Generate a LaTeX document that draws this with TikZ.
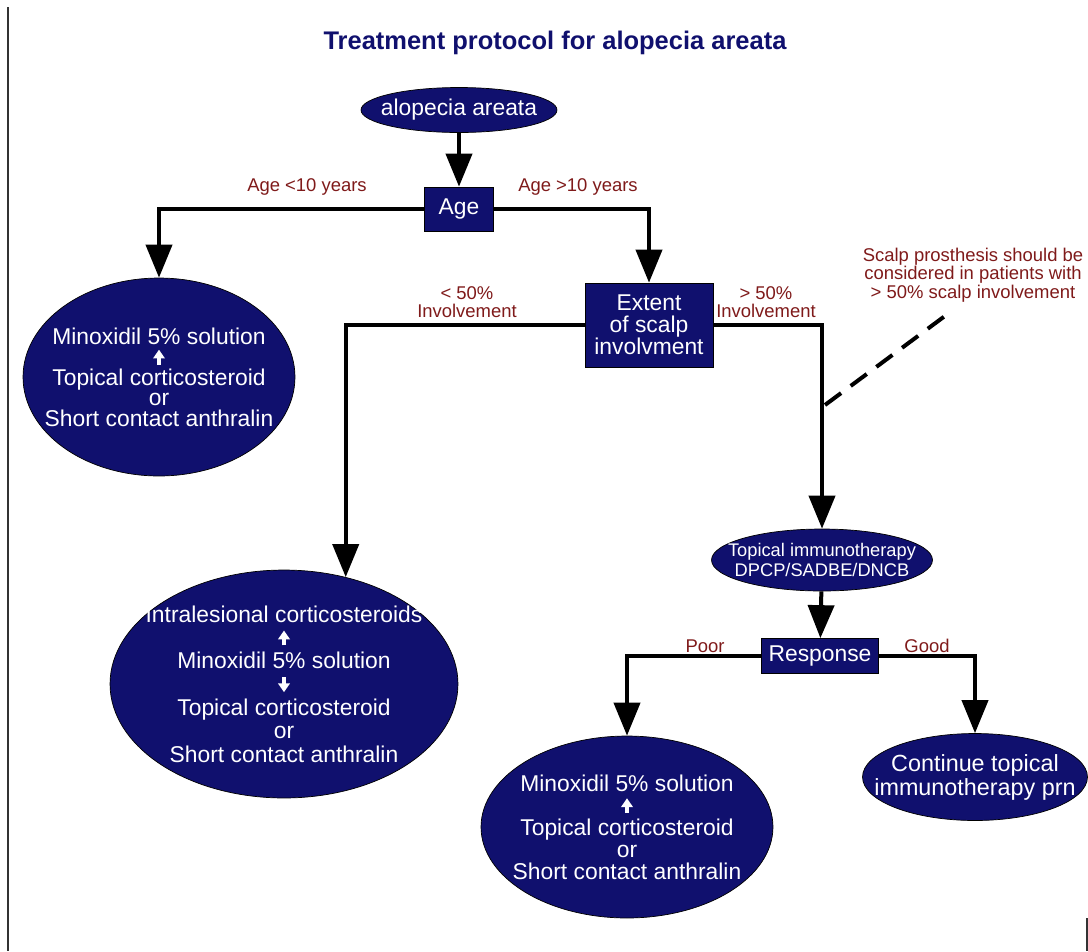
\documentclass[tikz,border=0pt]{standalone}
\usepackage{fontspec}
\setmainfont{Liberation Sans}
\usepackage{tikz}
\usetikzlibrary{positioning,shapes.geometric,arrows.meta,calc}
\definecolor{navy}{HTML}{10106E}
\definecolor{rust}{HTML}{7F1A1A}
\tikzset{
    oval/.style={ellipse, draw=black, fill=navy, text=white, align=center,
        inner xsep=-3cm, inner ysep=-2cm, font=\fontsize{13}{12.5}\selectfont},
    block/.style={rectangle, draw=black, fill=navy, text=white, align=center,
        inner sep=0pt, font=\fontsize{13}{12.5}\selectfont},
    line/.style={-{Triangle[width=0.52cm,length=0.66cm]}, line width=0.08cm},
    lbl/.style={text=rust, align=center, font=\fontsize{10.5}{10.6}\selectfont},
    dashline/.style={dash pattern=on 0.4cm off 0.24cm, line width=0.08cm},
}
% small white arrows between the lines of text
\newcommand{\uparr}{\tikz[baseline=0pt]\draw[white,line width=2pt,-{Triangle[width=6.5pt,length=5pt]}](0,0)--(0,8.5pt);}
\newcommand{\dnarr}{\tikz[baseline=0pt]\draw[white,line width=2pt,-{Triangle[width=6.5pt,length=5pt]}](0,8.5pt)--(0,0);}

\begin{document}
\begin{tikzpicture}[x=0.02cm, y=-0.02cm]
    \useasboundingbox (0,0) rectangle (1088,951);
    \draw[line width=0.04cm, black!80] (8,7) -- (8,951);
    \draw[line width=0.04cm, black!80] (1087,918) -- (1087,951);

    \node[text=navy, font=\fontsize{14.5}{16}\selectfont\bfseries] (title) at (555,43)
        {Treatment protocol for alopecia areata};

    \node[oval, minimum width=3.92cm, minimum height=0.9cm] (disease) at (459,110) {alopecia areata};
    \node[block, minimum width=1.38cm, minimum height=0.88cm] (age) at (459,209) {Age};
    \node[oval, minimum width=5.44cm, minimum height=3.96cm,
        font=\fontsize{13}{11.7}\selectfont] (young) at (159,377)
        {Minoxidil 5\% solution\\ \uparr\\ Topical corticosteroid\\ or\\ Short contact anthralin};
    \node[block, minimum width=2.56cm, minimum height=1.68cm] (extent) at (649,325)
        {Extent\\ of scalp\\ involvment};
    \node[oval, minimum width=6.96cm, minimum height=4.56cm,
        font=\fontsize{13}{13.3}\selectfont] (mild) at (284,684)
        {Intralesional corticosteroids\\ \uparr\\ Minoxidil 5\% solution\\ \dnarr\\
         Topical corticosteroid\\ or\\ Short contact anthralin};
    \node[oval, minimum width=4.42cm, minimum height=1.24cm,
        font=\fontsize{10.4}{11.4}\selectfont] (immuno) at (822,560)
        {Topical immunotherapy\\ DPCP/SADBE/DNCB};
    \node[block, minimum width=2.34cm, minimum height=0.7cm] (response) at (820,656) {Response};
    \node[oval, minimum width=5.84cm, minimum height=3.64cm,
        font=\fontsize{13}{12.5}\selectfont] (poor) at (627,827)
        {Minoxidil 5\% solution\\ \uparr\\ Topical corticosteroid\\ or\\ Short contact anthralin};
    \node[oval, minimum width=4.5cm, minimum height=1.74cm,
        font=\fontsize{13.3}{13.6}\selectfont] (good) at (975,777)
        {Continue topical\\ immunotherapy prn};

    \node[lbl] (note) at (973,275)
        {Scalp prosthesis should be\\ considered in patients with\\ > 50\% scalp involvement};
    \coordinate (dashA) at (825,405);
    \coordinate (dashB) at (953,310);

    \draw[line] (disease) -- (age);
    \draw[line] (age.west) -| (young);
    \draw[line] (age.east) -| (extent);
    \draw[line] (extent.west) -| (mild.60);
    \draw[line] (extent.east) -| (immuno);
    \draw[line] (immuno) -- (response);
    \draw[line] (response.west) -| (poor);
    \draw[line] (response.east) -| (good);
    \draw[dashline] (dashA) -- (dashB);

    \node[lbl] (lessten) at (307,187) {Age <10 years};
    \node[lbl] (moreten) at (578,187) {Age >10 years};
    \node[lbl] (lesshalf) at (467,302) {< 50\%\\ Involvement};
    \node[lbl] (morehalf) at (766,302) {> 50\%\\ Involvement};
    \node[lbl] (poorlbl) at (705,646) {Poor};
    \node[lbl] (goodlbl) at (927,646) {Good};
\end{tikzpicture}
\end{document}
